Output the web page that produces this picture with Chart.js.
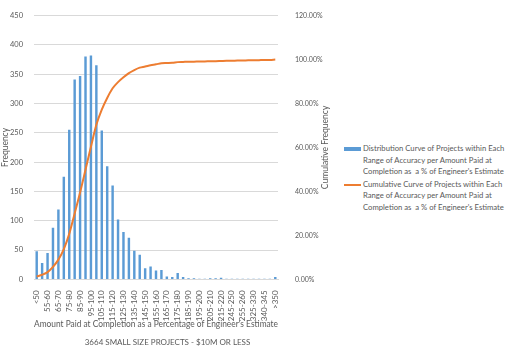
<!DOCTYPE html>
<html>
<head>
<meta charset="utf-8">
<script src="https://cdn.jsdelivr.net/npm/chart.js@4"></script>
<style>
  body { margin: 0; background: #fff; }
  #wrap { position: relative; width: 505px; height: 351px; }
  #chartBox { position: absolute; left: 0; top: 0; width: 335px; height: 351px; }
  #legend { position: absolute; left: 344px; top: 143px; font-family: Lato, sans-serif; font-size: 7.7px; color: #595959; line-height: 11.5px; white-space: nowrap; }
  .item { display: flex; align-items: flex-start; margin-bottom: 1px; }
  .sw { width: 17px; flex: none; margin-right: 2px; }
  .bar { height: 4px; background: #5b9bd5; margin-top: 4px; }
  .ln { height: 2px; background: #ed7d31; margin-top: 5px; }
</style>
</head>
<body>
<div id="wrap">
  <div id="chartBox"><canvas id="canvasChart"></canvas></div>
  <div id="legend">
    <div class="item"><div class="sw bar"></div><div>Distribution Curve of Projects within Each<br>Range of Accuracy per Amount Paid at<br>Completion as &nbsp;a % of Engineer's Estimate</div></div>
    <div class="item"><div class="sw ln"></div><div>Cumulative Curve of Projects within Each<br>Range of Accuracy per Amount Paid at<br>Completion as &nbsp;a % of Engineer's Estimate</div></div>
  </div>
</div>
<script>
const rangeLabels = ['<50', '50-55', '55-60', '60-65', '65-70', '70-75', '75-80', '80-85', '85-90', '90-95',
  '95-100', '100-105', '105-110', '110-115', '115-120', '120-125', '125-130', '130-135', '135-140', '140-145',
  '145-150', '150-155', '155-160', '160-165', '165-170', '170-175', '175-180', '180-185', '185-190', '190-195',
  '195-200', '200-205', '205-210', '210-215', '215-220', '220-225', '245-250', '250-255', '255-260', '260-265',
  '325-330', '330-335', '340-345', '345-350', '>350']

const frequency = [48, 28, 45, 88, 119, 175, 255, 341, 347, 380,
  382, 365, 254, 193, 160, 102, 81, 71, 49, 42,
  19, 22, 15, 16, 5, 4, 11, 4, 2, 2,
  1, 1, 2, 2, 3, 1, 1, 1, 1, 1,
  1, 1, 1, 1, 4]

const cumulativePct = [1.3, 2.1, 3.3, 5.7, 9.0, 13.8, 20.7, 30.0, 39.5, 49.9,
  60.3, 70.3, 77.2, 82.5, 86.9, 89.7, 91.9, 93.8, 95.2, 96.3,
  96.8, 97.4, 97.8, 98.3, 98.4, 98.5, 98.8, 98.9, 99.0, 99.0,
  99.1, 99.1, 99.2, 99.2, 99.3, 99.4, 99.4, 99.5, 99.5, 99.6,
  99.6, 99.7, 99.8, 99.8, 100.0]

const freqTicks = {min: 0, max: 450, step: 50}
const pctTicks = {min: 0, max: 120, step: 20}

const textGray = '#595959'
const fontFam = 'Lato, sans-serif'

// right axis title reads bottom-to-top like the left one
const rightTitle = {
  id: 'rightTitle',
  afterDraw(chart) {
    const c = chart.ctx, a = chart.chartArea
    c.save()
    c.translate(a.right + 47, (a.top + a.bottom) / 2)
    c.rotate(-Math.PI / 2)
    c.fillStyle = textGray
    c.font = '8.5px ' + fontFam
    c.textAlign = 'center'
    c.textBaseline = 'middle'
    c.fillText('Cumulative Frequency', 0, 0)
    c.restore()
  }
}

let config = {
  data: {
    labels: rangeLabels,
    datasets: [{
      type: 'line',
      label: 'Cumulative',
      data: cumulativePct,
      yAxisID: 'y1',
      borderColor: '#ed7d31',
      borderWidth: 2,
      pointRadius: 0,
      cubicInterpolationMode: 'monotone',
      fill: false,
    }, {
      type: 'bar',
      label: 'Distribution',
      data: frequency,
      yAxisID: 'y',
      backgroundColor: '#5b9bd5',
      barPercentage: 0.45,
      categoryPercentage: 1,
    }]
  },
  options: {
    responsive: true,
    maintainAspectRatio: false,
    animation: false,
    layout: { padding: { top: 4, left: 0, right: 0, bottom: 0 } },
    plugins: {
      legend: { display: false },
      tooltip: { enabled: false },
      title: {
        display: true,
        position: 'bottom',
        text: '3664 SMALL SIZE PROJECTS - $10M OR LESS',
        color: textGray,
        font: { family: fontFam, size: 8, weight: 'normal' },
        padding: { top: 4, bottom: 4 },
      }
    },
    scales: {
      x: {
        grid: { display: false },
        border: { color: '#d9d9d9' },
        ticks: {
          autoSkip: false,
          minRotation: 90,
          maxRotation: 90,
          padding: 3,
          color: textGray,
          font: { family: fontFam, size: 8 },
          callback: function (v, i) { return i % 2 === 0 ? rangeLabels[i] : '' }
        },
        title: {
          display: true,
          text: "Amount Paid at Completion as a Percentage of Engineer's Estimate",
          color: textGray,
          font: { family: fontFam, size: 8.5 },
          padding: { top: 2, bottom: 4 },
        },
        afterFit: function (s) { s.height = 54 }
      },
      y: {
        position: 'left',
        min: freqTicks.min,
        max: freqTicks.max,
        ticks: { stepSize: freqTicks.step, color: textGray, font: { family: fontFam, size: 7.5 }, padding: 11 },
        grid: { color: '#d9d9d9', drawTicks: false },
        border: { display: false },
        title: { display: true, text: 'Frequency', color: textGray, font: { family: fontFam, size: 8.5 }, padding: { top: 0, bottom: 0 } },
        afterFit: function (s) { s.width = 34 }
      },
      y1: {
        position: 'right',
        min: pctTicks.min,
        max: pctTicks.max,
        ticks: {
          stepSize: pctTicks.step,
          color: textGray,
          font: { family: fontFam, size: 7 },
          padding: 9,
          callback: v => v.toFixed(2) + '%'
        },
        grid: { display: false },
        border: { display: false },
        afterFit: function (s) { s.width = 57 }
      }
    }
  },
  plugins: [rightTitle]
}

let ctx = document.getElementById('canvasChart').getContext('2d')
let canvasChart = new Chart(ctx, config)
</script>
</body>
</html>
